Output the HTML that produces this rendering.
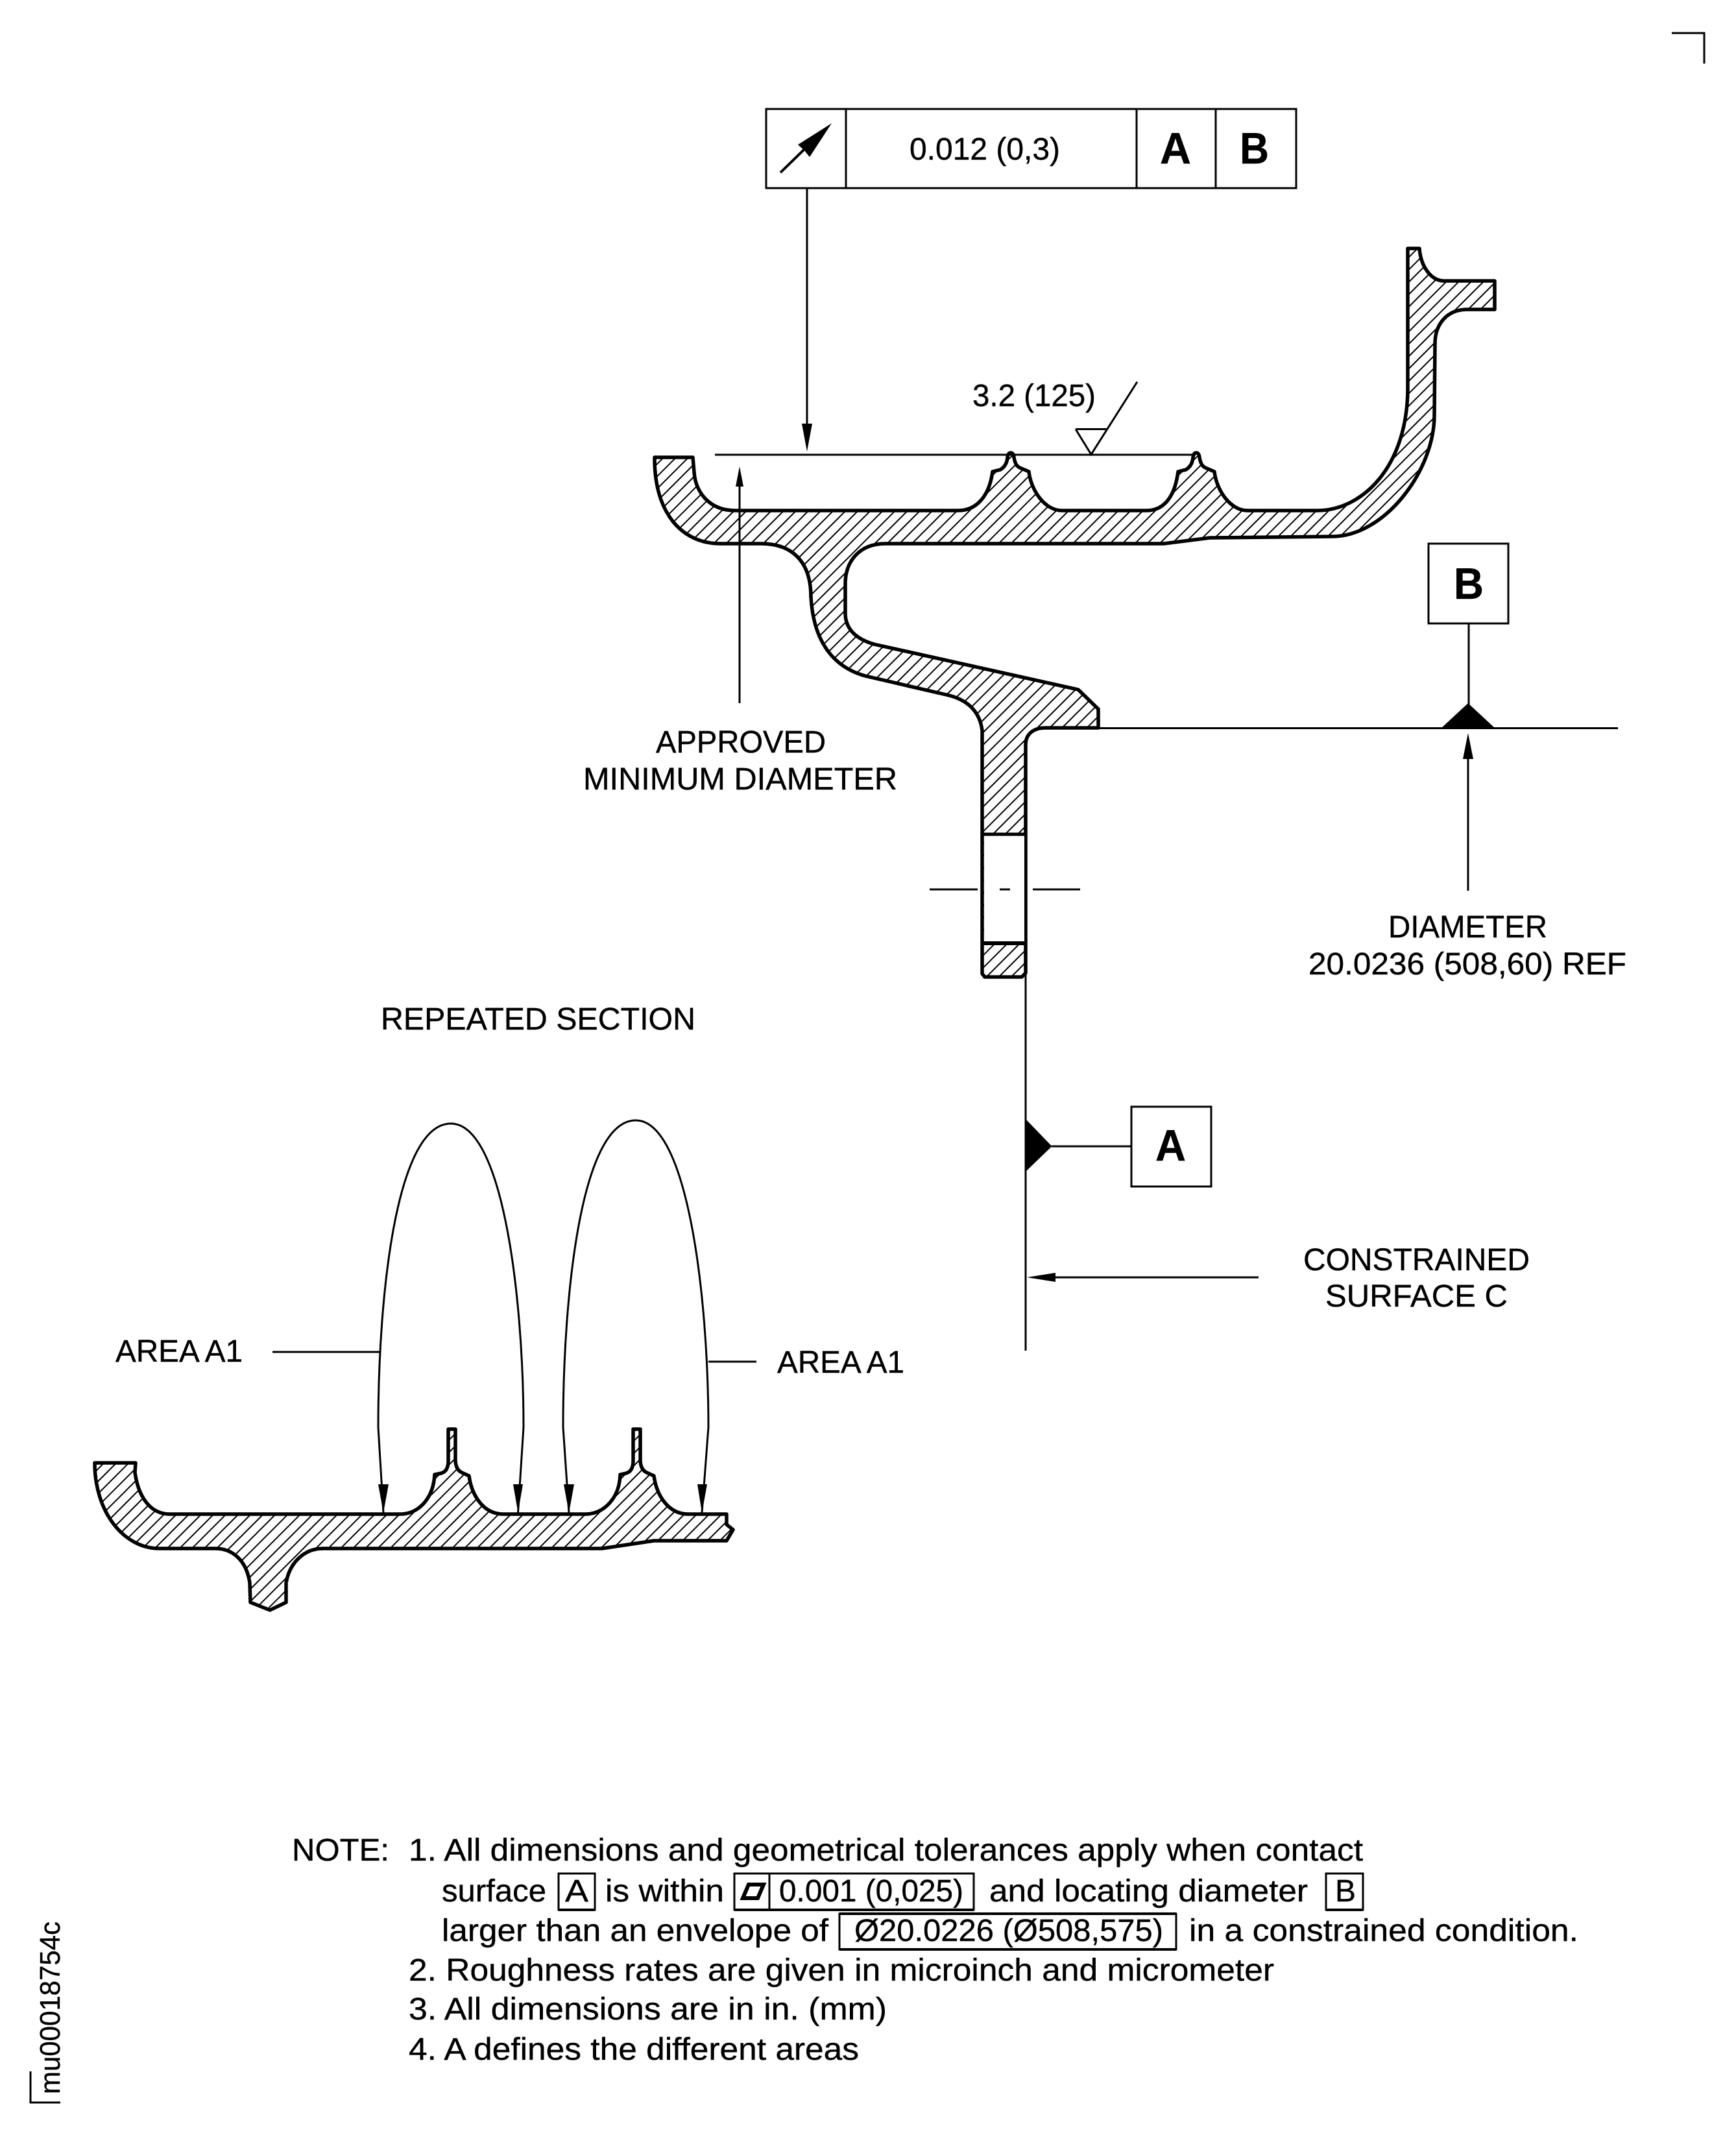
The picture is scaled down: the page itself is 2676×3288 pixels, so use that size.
<!DOCTYPE html>
<html><head><meta charset="utf-8"><style>
html,body{margin:0;padding:0;background:#fff}
svg{display:block}
text{font-family:"Liberation Sans",sans-serif;fill:#000;stroke:#000;stroke-width:.4px}
.t{font-size:48px}
.b{font-size:68px;font-weight:bold}
</style></head><body>
<svg xmlns="http://www.w3.org/2000/svg" width="2676" height="3288" viewBox="0 0 2676 3288">
<defs>
<pattern id="h1" patternUnits="userSpaceOnUse" width="13.5" height="13.5" patternTransform="rotate(-45)"><rect width="13.5" height="13.5" fill="#fff"/><rect y="6" width="13.5" height="2" fill="#000"/></pattern>
</defs>
<rect width="2676" height="3288" fill="#fff"/>

<!-- corner marks -->
<path d="M2577 51H2627V98" fill="none" stroke="#000" stroke-width="3"/>
<path d="M47 3193V3241H93" fill="none" stroke="#000" stroke-width="3"/>
<text class="t" transform="translate(92 3228) rotate(-90)" textLength="266" lengthAdjust="spacingAndGlyphs" style="font-size:44px">mu00018754c</text>

<!-- feature control frame -->
<g fill="none" stroke="#000" stroke-width="3">
<rect x="1181" y="168" width="817" height="122"/>
<path d="M1304 168V290M1752 168V290M1874 168V290"/>
</g>
<path d="M1203 266L1240 230" fill="none" stroke="#000" stroke-width="4"/>
<path d="M1282 190L1248 242L1240 232L1230 223Z" fill="#000"/>
<text class="t" x="1402" y="246" textLength="232" lengthAdjust="spacingAndGlyphs">0.012 (0,3)</text>
<text class="b" x="1788" y="252" textLength="48" lengthAdjust="spacingAndGlyphs">A</text>
<text class="b" x="1911" y="252" textLength="45" lengthAdjust="spacingAndGlyphs">B</text>

<!-- main section -->
<path fill="url(#h1)" stroke="#000" stroke-width="5.5" stroke-linejoin="round" d="M1009 705L1068 705L1070 728C1072 760 1095 787 1133 787L1477 787C1505 787 1525 765 1530 727L1542 724Q1552 718 1553 705Q1554 698 1558 698Q1562 698 1563 705Q1565 718 1572 721L1586 727C1589 755 1610 787 1637 787L1767 787C1795 787 1811 765 1816 727L1828 724Q1838 718 1839 705Q1840 698 1844 698Q1848 698 1849 705Q1851 718 1858 721L1872 727C1875 755 1896 787 1923 787L2030 787C2100 787 2169 720 2170 600L2170 383L2188 383C2190 410 2205 432 2225 433L2304 433L2304 477L2262 477C2230 477 2212 500 2212 530L2211 640C2211 725 2135 827 2053 827L1865 829L1794 838L1365 838C1325 838 1303 865 1303 900L1303 945C1303 970 1320 985 1347 993L1662 1063L1693 1093L1693 1122L1611 1122C1595 1122 1581 1130 1581 1148L1581 1500L1575 1506L1518 1506L1514 1501L1514 1126C1510 1095 1490 1078 1459 1071L1334 1042C1290 1030 1254 995 1250 920C1250 870 1225 838 1173 838L1111 838C1050 838 1009 790 1009 707Z"/>
<rect x="1517" y="1288" width="62" height="165" fill="#fff"/>
<path d="M1514 1286H1581" stroke="#000" stroke-width="5" fill="none"/>
<path d="M1514 1454H1581" stroke="#000" stroke-width="6" fill="none"/>
<path d="M1433 1371H1507M1541 1371H1557M1592 1371H1665" stroke="#000" stroke-width="3" fill="none"/>

<!-- top dimension -->
<g stroke="#000" fill="none" stroke-width="3">
<path d="M1102 701H1843"/>
<path d="M1244 290V660"/>
<path d="M1140 740V1084"/>
<path d="M1693 1122.5H2494"/>
<path d="M2264 961V1090"/>
<path d="M2263 1160V1373"/>
<path d="M1581 1500V2082"/>
<path d="M1621 1767H1744"/>
<path d="M1620 1969H1940"/>
<path d="M1658 661.5H1707M1658 661.5L1682 700.5L1753 588.6"/>
<rect x="2202" y="838" width="123" height="123"/>
<rect x="1744" y="1706" width="123" height="123"/>
</g>
<path d="M1244 696L1236 653H1252Z M1140 719L1134 750H1146Z M2263 1130L2255 1170H2271Z M1583 1969L1627 1962V1976Z" fill="#000"/>
<path d="M2222 1122L2263 1084L2304 1122Z M1581 1725L1621.5 1767L1581 1806Z" fill="#000"/>

<text class="t" x="1499" y="626" textLength="190" lengthAdjust="spacingAndGlyphs">3.2 (125)</text>
<text class="b" x="2241" y="923" textLength="46" lengthAdjust="spacingAndGlyphs">B</text>
<text class="b" x="1781" y="1789" textLength="47" lengthAdjust="spacingAndGlyphs">A</text>
<text class="t" x="1011" y="1160" textLength="262" lengthAdjust="spacingAndGlyphs">APPROVED</text>
<text class="t" x="899" y="1217" textLength="484" lengthAdjust="spacingAndGlyphs">MINIMUM DIAMETER</text>
<text class="t" x="2140" y="1445" textLength="245" lengthAdjust="spacingAndGlyphs">DIAMETER</text>
<text class="t" x="2017" y="1502" textLength="490" lengthAdjust="spacingAndGlyphs">20.0236 (508,60) REF</text>
<text class="t" x="587" y="1587" textLength="485" lengthAdjust="spacingAndGlyphs">REPEATED SECTION</text>
<text class="t" x="2009" y="1958" textLength="349" lengthAdjust="spacingAndGlyphs">CONSTRAINED</text>
<text class="t" x="2043" y="2014" textLength="281" lengthAdjust="spacingAndGlyphs">SURFACE C</text>
<text class="t" x="178" y="2099" textLength="196" lengthAdjust="spacingAndGlyphs">AREA A1</text>
<text class="t" x="1198" y="2116" textLength="196" lengthAdjust="spacingAndGlyphs">AREA A1</text>

<!-- arches -->
<g stroke="#000" fill="none" stroke-width="3">
<path d="M420 2084H585"/>
<path d="M1092 2099H1166"/>
<path d="M591 2332L583 2200C583 2000 610 1732 695 1732C775 1732 807 2000 807 2200L798.5 2332"/>
<path d="M877 2332L868 2200C868 2000 895 1727 980 1727C1060 1727 1092 2000 1092 2200L1082 2332"/>
</g>
<path d="M591 2332L583 2288H599Z M798.5 2332L791 2288H806Z M877 2332L869 2288H885Z M1082 2332L1075 2288H1090Z" fill="#000"/>

<!-- lower section -->
<path fill="url(#h1)" stroke="#000" stroke-width="5.5" stroke-linejoin="round" d="M146 2255L209 2255L208 2270C213 2305 230 2334 262 2334L617 2334C645 2334 668 2310 670 2273L680 2271Q691 2268 691 2252L691 2203L702 2203L702 2252Q703 2266 712 2270L723 2275C727 2305 745 2334 776 2334L903 2334C930 2334 955 2310 956 2273L965 2271Q976 2268 976 2252L976 2203L987 2203L987 2252Q988 2266 997 2270L1008 2275C1012 2305 1030 2334 1061 2334L1120 2334L1120 2350L1130 2358L1120 2375L1008 2375L928 2387L498 2387C468 2387 446 2410 441 2440L441 2470L416 2482L386 2470L385 2440C380 2405 358 2387 332 2387L246 2387C190 2387 146 2330 146 2255Z"/>

<!-- notes -->
<text class="t" x="450" y="2868" textLength="150" lengthAdjust="spacingAndGlyphs">NOTE:</text>
<text class="t" x="630" y="2868" textLength="1471" lengthAdjust="spacingAndGlyphs">1. All dimensions and geometrical tolerances apply when contact</text>
<text class="t" x="681" y="2931" textLength="161" lengthAdjust="spacingAndGlyphs">surface</text>
<text class="t" x="871" y="2931" textLength="36" lengthAdjust="spacingAndGlyphs">A</text>
<text class="t" x="933" y="2931" textLength="183" lengthAdjust="spacingAndGlyphs">is within</text>
<text class="t" x="1201" y="2931" textLength="284" lengthAdjust="spacingAndGlyphs">0.001 (0,025)</text>
<text class="t" x="1525" y="2931" textLength="491" lengthAdjust="spacingAndGlyphs">and locating diameter</text>
<text class="t" x="2058" y="2931" textLength="32" lengthAdjust="spacingAndGlyphs">B</text>
<text class="t" x="681" y="2992" textLength="596" lengthAdjust="spacingAndGlyphs">larger than an envelope of</text>
<text class="t" x="1317" y="2992" textLength="476" lengthAdjust="spacingAndGlyphs">Ø20.0226 (Ø508,575)</text>
<text class="t" x="1833" y="2992" textLength="600" lengthAdjust="spacingAndGlyphs">in a constrained condition.</text>
<text class="t" x="630" y="3053" textLength="1334" lengthAdjust="spacingAndGlyphs">2. Roughness rates are given in microinch and micrometer</text>
<text class="t" x="630" y="3113" textLength="737" lengthAdjust="spacingAndGlyphs">3. All dimensions are in in. (mm)</text>
<text class="t" x="630" y="3175" textLength="694" lengthAdjust="spacingAndGlyphs">4. A defines the different areas</text>
<g fill="none" stroke="#000" stroke-width="3">
<rect x="861" y="2888" width="56" height="56"/>
<rect x="1132" y="2888" width="369" height="56"/>
<path d="M1186 2888V2944"/>
<rect x="2044" y="2888" width="57" height="56"/>
<rect x="1294" y="2950" width="519" height="55"/>
</g>
<path d="M861 2944H917M1132 2944H1501M2044 2944H2101M1294 3005H1813M1294 2950H1813" stroke="#000" stroke-width="4" fill="none"/>
<path d="M1154 2905H1177L1168 2926H1145Z" fill="none" stroke="#000" stroke-width="6"/>
</svg>
</body></html>
